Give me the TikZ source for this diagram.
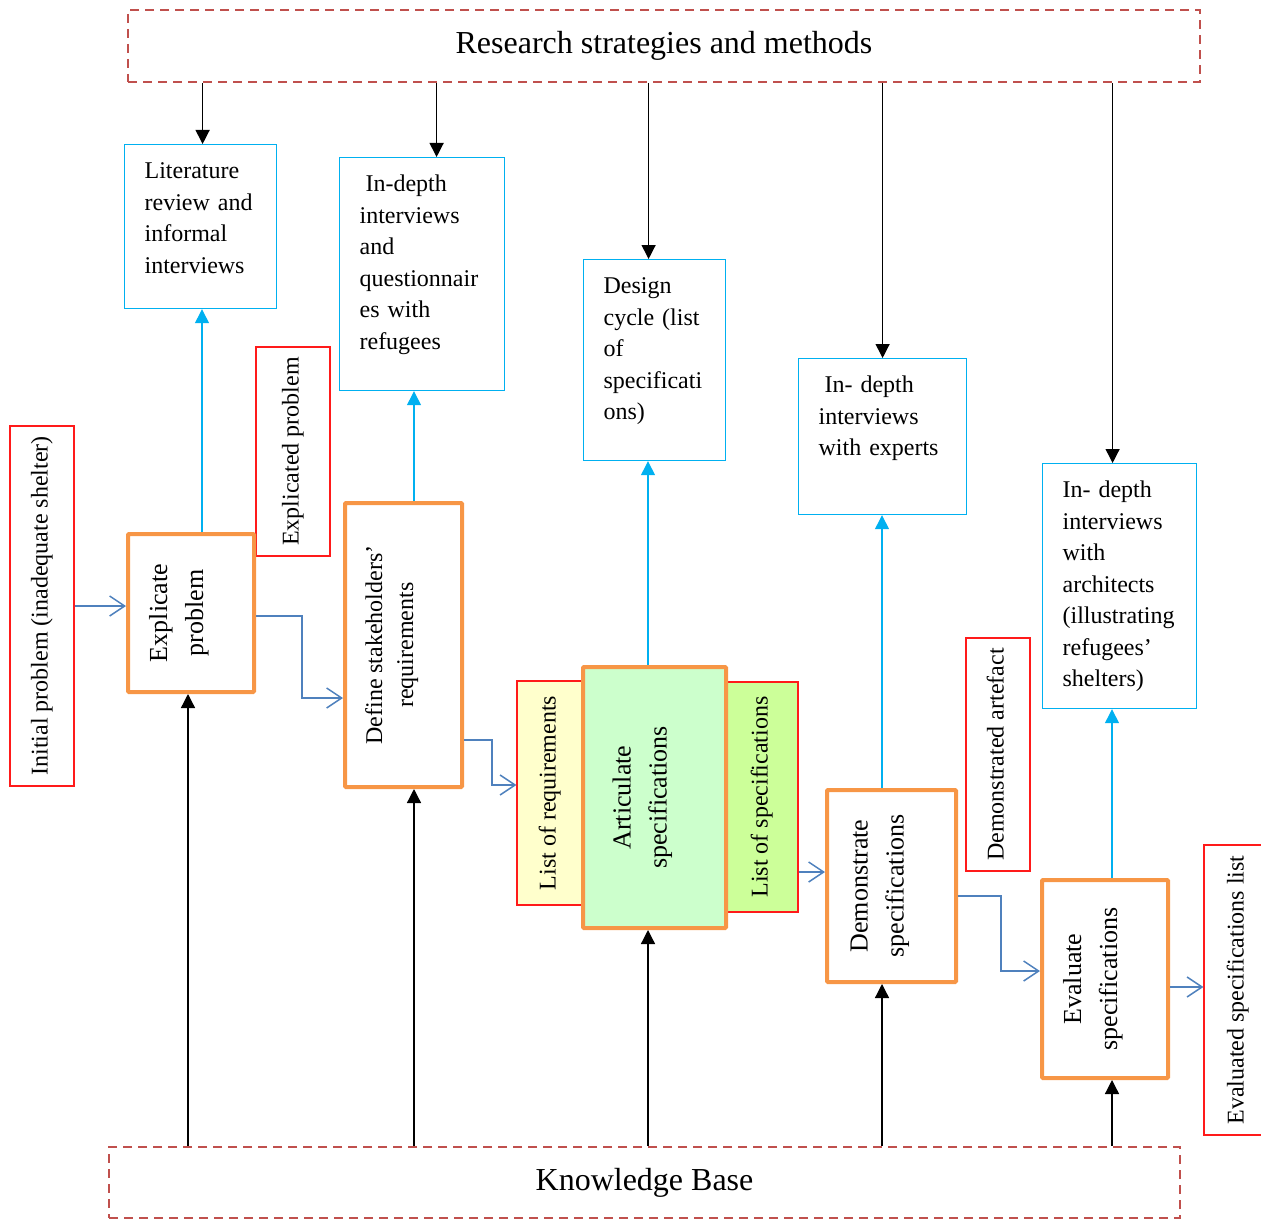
\documentclass[tikz,border=0pt]{standalone}
\usepackage{fontspec}
\setmainfont{Liberation Serif}
\usepackage{graphicx}
\usepackage{tikz}
\usetikzlibrary{arrows.meta,positioning}
\definecolor{cyanline}{HTML}{00B0F0}
\definecolor{orangeline}{HTML}{F79646}
\definecolor{redline}{HTML}{FF1A1A}
\definecolor{frameline}{HTML}{C0504D}
\definecolor{flowline}{HTML}{4F81BD}
\definecolor{reqfill}{HTML}{FFFFCC}
\definecolor{specfill}{HTML}{CCFF99}
\definecolor{artfill}{HTML}{CCFFCC}
\newcommand{\turned}[2][0pt]{\rotatebox{90}{\begin{tabular}{@{}c@{}}#2\end{tabular}}\kern#1}
\tikzset{frame/.style={draw=frameline,dash pattern=on 9pt off 6pt,line width=2.5pt,inner sep=0pt,font=\fontsize{32}{38}\selectfont}}
\tikzset{method/.style={draw=cyanline,line width=1.2pt,align=left,anchor=north west,inner xsep=20pt,inner ysep=0pt,text height=34pt,font=\fontsize{24}{31.5}\selectfont}}

\begin{document}
\begin{tikzpicture}[x=1pt,y=-1pt]
		\tikzstyle{activity}=[draw=orangeline,line width=4pt,rounded corners=1pt,inner sep=0pt,font=\fontsize{26}{36}\selectfont]
		\tikzstyle{outcome}=[draw=redline,line width=1.2pt,inner sep=0pt,font=\fontsize{24}{28}\selectfont]
		\tikzstyle{flow}=[-{Straight Barb[length=15pt,width=20pt]},flowline,line width=1.5pt]
		\tikzstyle{feed}=[-{Triangle[length=14pt,width=14pt]},line width=1.3pt]
		\tikzstyle{up}=[-{Triangle[length=14pt,width=14pt]},cyanline,line width=1.3pt]

		\useasboundingbox (0,0) rectangle (1261,1220);

		\node[frame,minimum width=1072pt,minimum height=72pt](research) at (664,46){Research strategies and methods};
		\node[frame,minimum width=1071pt,minimum height=71pt](knowledge) at (644.5,1182.5){Knowledge Base};

		\node[method,text width=112pt,text depth=130pt](lit) at (124,144){Literature\\review and\\informal\\interviews};
		\node[method,text width=125pt,text depth=199pt](refugees) at (339,157){\hspace*{6pt}In-depth\\interviews\\and\\questionnair\\es with\\refugees};
		\node[method,text width=102pt,text depth=167pt](design) at (583,259){Design\\cycle (list\\of\\specificati\\ons)};
		\node[method,text width=128pt,text depth=122pt](experts) at (798,358){\hspace*{6pt}In- depth\\interviews\\with experts};
		\node[method,text width=114pt,text depth=211pt](architects) at (1042,463){In- depth\\interviews\\with\\architects\\(illustrating\\refugees’\\shelters)};

		\node[outcome,minimum width=64pt,minimum height=360pt](initial) at (42,606){\turned{Initial problem (inadequate shelter)}};
		\node[outcome,minimum width=74pt,minimum height=209pt](explicated) at (293,451.5){\turned{Explicated problem}};
		\node[outcome,fill=reqfill,minimum width=66pt,minimum height=224pt](reqs) at (550,793){\turned{List of requirements}};
		\node[outcome,fill=specfill,minimum width=72pt,minimum height=230pt](specs) at (762,797){\turned{List of specifications}};
		\node[outcome,minimum width=64pt,minimum height=233pt](artefact) at (998,754.5){\turned{Demonstrated artefact}};
		\node[outcome,minimum width=68pt,minimum height=290pt](evallist) at (1238,990){\turned{Evaluated specifications list}};

		\node[activity,minimum width=126pt,minimum height=158pt](explicate) at (191,613){\turned[26pt]{Explicate\\problem}};
		\node[activity,minimum width=117pt,minimum height=284pt,font=\fontsize{24}{31}\selectfont](define) at (403.5,645){\turned[24pt]{Define stakeholders’\\requirements}};
		\node[activity,fill=artfill,minimum width=143pt,minimum height=261pt](articulate) at (654.5,797.5){\turned[26pt]{Articulate\\specifications}};
		\node[activity,minimum width=129pt,minimum height=192pt](demonstrate) at (891.5,886){\turned[26pt]{Demonstrate\\specifications}};
		\node[activity,minimum width=126pt,minimum height=198pt](evaluate) at (1105,979){\turned[26pt]{Evaluate\\specifications}};

		% strategies down to the methods
		\draw[feed] ([xshift=2pt]lit.north |- research.south) -- ([xshift=2pt]lit.north);
		\draw[feed] ([xshift=14.5pt]refugees.north |- research.south) -- ([xshift=14.5pt]refugees.north);
		\draw[feed] ([xshift=-6pt]design.north |- research.south) -- ([xshift=-6pt]design.north);
		\draw[feed] (experts.north |- research.south) -- (experts.north);
		\draw[feed] ([xshift=-7pt]architects.north |- research.south) -- ([xshift=-7pt]architects.north);

		% activities up to the methods
		\draw[up] ([xshift=11pt]explicate.north) -- ([xshift=11pt]explicate.north |- lit.south);
		\draw[up] ([xshift=10.5pt]define.north) -- ([xshift=10.5pt]define.north |- refugees.south);
		\draw[up] ([xshift=-6.5pt]articulate.north) -- ([xshift=-6.5pt]articulate.north |- design.south);
		\draw[up] ([xshift=-9.5pt]demonstrate.north) -- ([xshift=-9.5pt]demonstrate.north |- experts.south);
		\draw[up] ([xshift=7pt]evaluate.north) -- ([xshift=7pt]evaluate.north |- architects.south);

		% knowledge base up to the activities
		\draw[feed] ([xshift=-3pt]explicate.south |- knowledge.north) -- ([xshift=-3pt]explicate.south);
		\draw[feed] ([xshift=10.5pt]define.south |- knowledge.north) -- ([xshift=10.5pt]define.south);
		\draw[feed] ([xshift=-6.5pt]articulate.south |- knowledge.north) -- ([xshift=-6.5pt]articulate.south);
		\draw[feed] ([xshift=-9.5pt]demonstrate.south |- knowledge.north) -- ([xshift=-9.5pt]demonstrate.south);
		\draw[feed] ([xshift=7pt]evaluate.south |- knowledge.north) -- ([xshift=7pt]evaluate.south);

		% process flow
		\draw[flow] (initial.east) -- (initial.east -| explicate.west);
		\draw[flow] ([yshift=-3pt]explicate.east) -- ++(46,0) |- ([yshift=-53pt]define.west);
		\draw[flow] ([yshift=-95pt]define.east) -- ++(28,0) |- ([yshift=8pt]reqs.west);
		\draw[flow] ([yshift=-75pt]specs.east) -- ([yshift=-75pt]specs.east -| demonstrate.west);
		\draw[flow] ([yshift=-10pt]demonstrate.east) -- ++(43,0) |- ([yshift=8pt]evaluate.west);
		\draw[flow] ([yshift=-8pt]evaluate.east) -- ([yshift=-8pt]evaluate.east -| evallist.west);
	\end{tikzpicture}
\end{document}
